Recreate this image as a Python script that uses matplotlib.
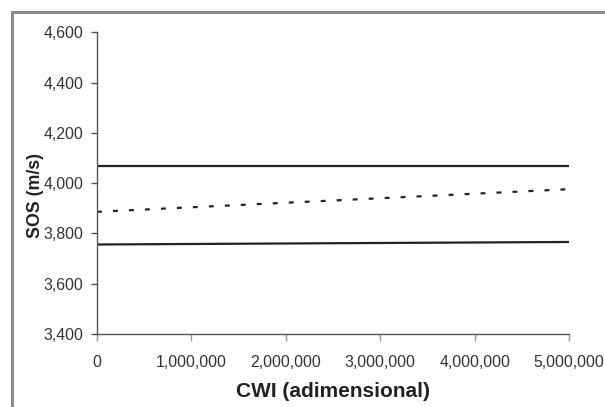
import matplotlib.pyplot as plt
from matplotlib.patches import Rectangle
from matplotlib.ticker import FuncFormatter

plt.rcParams['font.family'] = ['Liberation Sans', 'DejaVu Sans']

# CWI values (adimensional) and SOS (m/s) for each curve
cwi = [0, 5000000]
upper_sos = [4069, 4069]
lower_sos = [3756, 3766]
mean_sos = [3886, 3976]

x_ticks = [0, 1000000, 2000000, 3000000, 4000000, 5000000]
y_ticks = [3400, 3600, 3800, 4000, 4200, 4400, 4600]

fig = plt.figure(figsize=(6.05, 4.07), dpi=100)
ax = fig.add_axes([0.1603, 0.1794, 0.7802, 0.7412])

ax.plot(cwi, upper_sos, color='#222222', lw=1.6, solid_capstyle='butt')
ax.plot(cwi, lower_sos, color='#222222', lw=1.6, solid_capstyle='butt')
ax.plot(cwi, mean_sos, color='#222222', lw=1.6, linestyle=(0, (2.2, 5.0)),
        dash_capstyle='butt')

ax.set_xlim(0, 5000000)
ax.set_ylim(3400, 4600)
ax.set_xticks(x_ticks)
ax.set_yticks(y_ticks)
fmt = FuncFormatter(lambda v, p: f'{int(v):,}')
ax.xaxis.set_major_formatter(fmt)
ax.yaxis.set_major_formatter(fmt)

for s in ['top', 'right']:
    ax.spines[s].set_visible(False)
for s in ['left', 'bottom']:
    ax.spines[s].set_color('#555555')
    ax.spines[s].set_linewidth(1.0)

ax.tick_params(axis='y', direction='out', length=4, width=1, color='#555555',
               pad=6, labelsize=11.4, labelcolor='#333333')
ax.tick_params(axis='x', direction='out', length=5, width=1, color='#999999',
               pad=10, labelsize=11.4, labelcolor='#333333')

ax.set_xlabel('CWI (adimensional)', fontsize=15, fontweight='bold',
              color='#222222', labelpad=9)
ax.set_ylabel('SOS (m/s)', fontsize=12.8, fontweight='bold', color='#222222')
ax.yaxis.set_label_coords(-0.113, 0.46)

# partial frame around the figure (left and top edges visible)
fig.patches.append(Rectangle((12 / 605, -0.1), 1.2, (1 - 12.5 / 407) + 0.1,
                             transform=fig.transFigure, fill=False,
                             edgecolor='#8c8c8c', lw=2.2))

fig.savefig('out.png', dpi=100)
